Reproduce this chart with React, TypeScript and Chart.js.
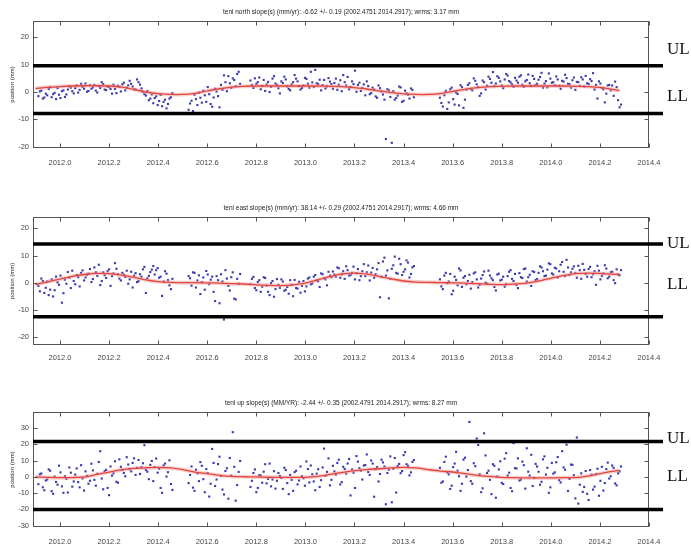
import React, { useEffect, useRef } from "react";
import { Chart, registerables } from "chart.js";
Chart.register(...registerables);

// ---------- DATA ----------
const epochs = [
  2011.912, 2011.924, 2011.936, 2011.948, 2011.960, 2011.972, 2011.984, 2011.996, 2012.008, 2012.020,
  2012.032, 2012.044, 2012.056, 2012.068, 2012.080, 2012.092, 2012.104, 2012.116, 2012.128, 2012.140,
  2012.152, 2012.164, 2012.176, 2012.188, 2012.200, 2012.212, 2012.224, 2012.236, 2012.248, 2012.260,
  2012.272, 2012.284, 2012.296, 2012.308, 2012.320, 2012.332, 2012.344, 2012.356, 2012.368, 2012.380,
  2012.392, 2012.404, 2012.416, 2012.428, 2012.440, 2012.452,
  2012.524, 2012.536, 2012.548, 2012.560, 2012.572, 2012.584, 2012.596, 2012.608, 2012.620, 2012.632,
  2012.644, 2012.656, 2012.668, 2012.680, 2012.692, 2012.704, 2012.716, 2012.728,
  2012.776, 2012.788, 2012.800, 2012.812, 2012.824, 2012.836, 2012.848, 2012.860, 2012.872, 2012.884,
  2012.896, 2012.908, 2012.920, 2012.932, 2012.944, 2012.956, 2012.968, 2012.980, 2012.992, 2013.004,
  2013.016, 2013.028, 2013.040, 2013.052, 2013.064, 2013.076, 2013.088, 2013.100,
  2013.112, 2013.124, 2013.136, 2013.148, 2013.160, 2013.172, 2013.184, 2013.196, 2013.208, 2013.220,
  2013.232, 2013.244, 2013.256, 2013.268, 2013.280, 2013.292, 2013.304, 2013.316, 2013.328, 2013.340,
  2013.352, 2013.364, 2013.376, 2013.388, 2013.400, 2013.412, 2013.424, 2013.436,
  2013.548, 2013.560, 2013.572, 2013.584, 2013.596, 2013.608, 2013.620, 2013.632, 2013.644, 2013.656,
  2013.668, 2013.680, 2013.692, 2013.704, 2013.716, 2013.728, 2013.740, 2013.752,
  2013.764, 2013.776, 2013.788, 2013.800, 2013.812, 2013.824, 2013.836, 2013.848, 2013.860, 2013.872,
  2013.884, 2013.896, 2013.908, 2013.920, 2013.932, 2013.944, 2013.956, 2013.968, 2013.980, 2013.992,
  2014.004, 2014.016, 2014.028, 2014.040, 2014.052, 2014.064, 2014.076, 2014.088, 2014.100, 2014.112,
  2014.124, 2014.136, 2014.148, 2014.160, 2014.172, 2014.184, 2014.196, 2014.208, 2014.220, 2014.232,
  2014.244, 2014.256, 2014.268, 2014.280,
];
// second batch of daily solutions (in between the first)
const epochsB = [
  2011.918, 2011.930, 2011.942, 2011.954, 2011.966, 2011.978, 2011.990, 2012.002, 2012.014, 2012.026,
  2012.038, 2012.050, 2012.062, 2012.074, 2012.086, 2012.098, 2012.110, 2012.122, 2012.134, 2012.146,
  2012.158, 2012.170, 2012.182, 2012.194, 2012.206, 2012.218, 2012.230, 2012.242, 2012.254, 2012.266,
  2012.278, 2012.290, 2012.302, 2012.314, 2012.326, 2012.338, 2012.350, 2012.362, 2012.374, 2012.386,
  2012.398, 2012.410, 2012.422, 2012.434, 2012.446, 2012.458,
  2012.530, 2012.542, 2012.554, 2012.566, 2012.578, 2012.590, 2012.602, 2012.614, 2012.626, 2012.638,
  2012.650, 2012.662, 2012.674, 2012.686, 2012.698, 2012.710, 2012.722, 2012.734,
  2012.782, 2012.794, 2012.806, 2012.818, 2012.830, 2012.842, 2012.854, 2012.866, 2012.878, 2012.890,
  2012.902, 2012.914, 2012.926, 2012.938, 2012.950, 2012.962, 2012.974, 2012.986, 2012.998, 2013.010,
  2013.022, 2013.034, 2013.046, 2013.058, 2013.070, 2013.082, 2013.094, 2013.106,
  2013.118, 2013.130, 2013.142, 2013.154, 2013.166, 2013.178, 2013.190, 2013.202, 2013.214, 2013.226,
  2013.238, 2013.250, 2013.262, 2013.274, 2013.286, 2013.298, 2013.310, 2013.322, 2013.334, 2013.346,
  2013.358, 2013.370, 2013.382, 2013.394, 2013.406, 2013.418, 2013.430, 2013.442,
  2013.554, 2013.566, 2013.578, 2013.590, 2013.602, 2013.614, 2013.626, 2013.638, 2013.650, 2013.662,
  2013.674, 2013.686, 2013.698, 2013.710, 2013.722, 2013.734, 2013.746, 2013.758,
  2013.770, 2013.782, 2013.794, 2013.806, 2013.818, 2013.830, 2013.842, 2013.854, 2013.866, 2013.878,
  2013.890, 2013.902, 2013.914, 2013.926, 2013.938, 2013.950, 2013.962, 2013.974, 2013.986, 2013.998,
  2014.010, 2014.022, 2014.034, 2014.046, 2014.058, 2014.070, 2014.082, 2014.094, 2014.106, 2014.118,
  2014.130, 2014.142, 2014.154, 2014.166, 2014.178, 2014.190, 2014.202, 2014.214, 2014.226, 2014.238,
  2014.250, 2014.262, 2014.274, 2014.286,
];

const northValues = [
  -1.5, 0.5, -2.0, -1.2, 1.8, -0.8, -2.6, -1.0, 0.3, -1.8, 0.9, 1.6, -0.5, 2.4, 0.8, 1.9, 3.1, 0.4, 1.2, 2.6,
  -0.2, 1.5, 2.9, 0.7, 1.8, -0.6, 1.1, 2.3, 0.2, 3.4, 1.6, 4.1, 2.0, 0.9, 3.6, 1.3, -0.8, 0.4, -2.4, -4.1,
  -1.6, -3.3, -5.2, -2.8, -4.4, -1.9,
  -6.5, -3.2, -1.0, -4.8, -2.1, 0.5, -3.6, -0.8, -5.4, 1.2, -1.5, 2.6, 6.1, 0.3, 3.2, 5.0, 2.1, 7.4,
  4.2, 1.5, 3.0, 5.3, 2.2, 0.4, 3.7, 1.9, 5.8, 2.6, -0.5, 3.3, 4.6, 1.1, 2.8, 6.2, 3.9, 0.9, 2.4, 4.8,
  1.6, 3.5, 8.1, 2.9, 0.6, 4.4, 2.1, 3.8,
  1.2, 4.9, 2.7, 0.3, 3.6, 5.5, 1.8, 2.9, 0.1, 3.4, 1.5, -1.2, 2.2, -0.4, 0.9, -2.1, 1.4, -0.9, -17.2, 0.6,
  -18.6, -2.8, -1.3, 1.7, -3.2, -0.5, -2.4, 0.8,
  -2.1, -5.3, 0.4, -3.8, 1.6, -4.6, -0.7, 2.5, -5.8, 0.9,
  3.2, 0.6, 4.1, 1.8, -0.5, 3.6, 2.3, 4.8,
  7.3, 3.1, 5.2, 2.4, 4.6, 6.0, 3.5, 1.9, 4.2, 5.6, 2.7, 3.9, 6.4, 2.2, 4.8, 3.0, 5.5, 1.6, 4.0, 6.8,
  3.4, 2.5, 4.6, 1.2, 3.8, 5.1, 2.9, 4.3, 0.8, 3.6, 5.4, 2.0, 3.2, 4.7, 6.9, 2.6, 3.9, 1.5, -3.8, 2.4,
  0.6, -1.4, 1.8, -5.6,
];
const northValuesB = [
  0.2, -2.4, -0.6, 1.1, -1.9, -0.3, 1.4, -2.2, 0.6, -0.9, 2.1, 0.3, 1.4, -0.2, 3.0, 1.2, 0.1, 2.5, 1.7, 0.5,
  2.2, 3.6, 0.9, 2.0, 1.1, 2.7, -0.4, 1.9, 2.8, 0.6, 2.4, 3.0, 1.0, 4.6, 2.7, 0.1, -1.3, -3.0, -0.9, -2.2,
  -4.8, -1.1, -3.6, -6.0, -2.4, -0.4,
  -4.2, -7.0, -2.6, -0.2, -3.9, -1.2, 1.8, -4.4, -2.0, 0.2, -5.6, 0.8, 3.6, 5.8, 1.5, 4.4, 6.6, 3.0,
  2.6, 5.0, 3.6, 1.0, 4.4, 2.8, 0.0, 4.9, 3.1, 1.4, 3.9, 5.6, 2.0, 0.6, 3.6, 4.9, 2.2, 1.5, 5.2, 3.0,
  7.4, 1.8, 3.2, 4.5, 2.5, 1.3, 5.1, 2.9,
  3.3, 0.8, 4.3, 6.2, 2.4, 1.0, 3.9, 7.8, 2.6, 0.4, 2.8, 3.9, -0.8, 1.6, -1.6, 2.4, 0.2, -2.8, 1.0, -1.8,
  0.3, -2.2, 2.0, -3.6, 0.5, -1.0, 1.3, -1.9,
  -4.0, -1.2, -6.2, 1.0, -2.6, -0.2, -4.9, 1.8, -2.8, 2.6,
  1.2, 5.0, 2.8, -1.4, 4.2, 0.9, 5.6, 3.4,
  2.1, 5.8, 3.9, 1.4, 6.6, 4.0, 2.8, 5.2, 3.4, 6.1, 1.9, 4.4, 3.2, 5.9, 2.6, 4.5, 7.0, 3.1, 1.7, 4.9,
  3.6, 5.7, 2.3, 4.1, 6.3, 3.0, 1.6, 5.3, 3.7, 2.2, 4.6, 5.9, 2.9, 4.0, 0.9, -2.4, 3.1, 1.0, -0.6, 2.6,
  2.4, 3.8, -3.0, -4.6,
];

const eastValues = [
  -1.2, 1.5, -3.8, 0.4, -2.6, -5.1, 2.2, -0.8, -7.4, 1.1, 3.9, -2.0, 0.6, 2.8, -1.4, 4.5, 1.9, 3.3, 0.2, 5.6,
  2.5, -0.9, 3.8, 1.7, 4.9, 2.4, 7.2, 3.1, 0.8, 2.9, 4.4, 1.2, -1.8, 3.5, 0.5, 2.2, 5.8, 1.6, 3.9, 6.1,
  4.6, 1.8, -4.9, 4.2, 0.9, -2.4,
  2.4, -1.1, 3.6, 0.8, -4.2, 1.9, 4.3, -0.6, 2.2, -6.8, 0.9, 3.1, -13.6, 1.5, -2.9, 3.8, -6.2, -0.4,
  -0.6, 2.1, -2.8, 0.9, -1.5, 1.7, -3.4, -0.2, -5.2, 1.3, -1.9, 0.4, -2.6, -4.1, -0.8, 1.0, -2.2, -3.7, 0.6, -1.4,
  1.9, -0.3, 2.8, 0.5, 3.4, 1.6, -1.0, 2.6,
  4.1, 2.2, 5.3, 3.0, 1.4, 4.6, 2.8, 5.9, 3.5, 0.9, 4.2, 2.4, 6.3, 3.7, 1.8, 4.9, -5.4, 7.8, 2.6, -5.8,
  5.1, 9.6, 3.3, 6.8, 4.0, 8.2, 1.9, 5.6,
  1.2, -2.4, 3.6, 0.4, -4.3, 2.2, -1.0, 4.5, 1.8, -0.6, 2.9, 0.2, 3.8, -1.8, 1.5, 4.1, -0.4, 2.6, 0.9, -2.9,
  3.3, 1.1, -1.5, 2.4, 4.6, 0.6, -0.9, 3.5, 1.7, 5.2, 2.0, -1.2, 3.9, 1.3, 6.0, 4.2, 2.6, 7.1, 3.4, 5.5,
  1.9, 6.6, 4.0, 8.4, 2.8, 5.1, 3.6, 6.2, 1.4, 4.7, 2.2, 5.8, 3.1, -0.8, 4.4, 2.5, 6.4, 1.6, 3.8, 0.9,
  4.9, 2.7,
];
const eastValuesB = [
  -3.2, 0.6, -1.9, -4.6, 1.2, -2.8, 0.1, 2.6, -3.9, -0.4, 1.8, 4.4, -0.6, 2.0, 3.6, 0.8, 2.9, 5.0, 1.3, 3.8,
  6.6, 0.6, 2.7, 4.2, -1.2, 3.4, 5.1, 1.5, 3.6, 2.1, -0.4, 4.0, 2.6, 0.2, 3.1, 4.9, -3.8, 2.5, 4.8, 3.0,
  5.4, 2.2, 0.4, 3.3, -1.0, 1.4,
  1.6, 3.8, -1.8, 2.7, 0.2, -2.6, 3.0, 1.1, -3.4, 2.4, -7.6, 0.4, 4.6, -1.2, 2.0, -5.9, 1.4, 3.2,
  1.4, -2.0, 0.2, -3.4, 2.0, -1.1, -4.6, 0.6, -2.4, -0.8, 1.2, -3.0, -1.6, 0.9, -5.0, -2.0, 0.3, -1.2, -3.2, 1.5,
  -0.6, 2.2, 0.8, -1.6, 3.1, 1.2, 4.0, 2.0,
  3.0, 5.6, 1.8, 4.2, 6.0, 2.6, 3.6, 1.2, 5.0, 2.4, 6.8, 3.8, 0.8, 5.4, 3.1, 7.2, 2.2, 9.2, 4.5, 1.4,
  6.4, 3.6, 8.8, 2.8, 4.9, 7.4, 3.2, 6.1,
  -1.4, 2.6, -0.2, 3.2, -3.0, 1.0, 5.2, -1.6, 2.4, 0.6, -2.2, 3.4, 1.2, -0.8, 2.8, 0.0, 4.4, 1.6, -1.6, 3.0,
  0.8, 2.2, -0.6, 4.0, 1.4, 3.2, -2.0, 2.0, 5.0, 0.4, 2.9, 4.2, 1.0, 3.6, 5.6, 2.4, 4.8, 6.8, 3.0, 5.2,
  4.2, 7.6, 2.4, 5.6, 3.8, 6.0, 1.8, 4.6, 6.9, 3.2, 5.0, 2.0, 4.2, 6.2, 1.2, 3.4, 5.2, 2.2, 4.0, -0.2,
  3.0, 4.6,
];

const upValues = [
  -4.5, 2.1, -8.2, -1.6, 3.8, -10.4, -3.1, 6.9, -5.8, 0.4, -9.6, 2.6, -2.8, 5.2, -6.4, -0.9, 3.4, -4.2, 8.1, -1.8,
  1.9, 15.8, -7.6, 4.3, -11.2, 0.8, 9.6, -3.6, 6.2, 2.4, 12.1, 4.8, 8.6, 1.2, 10.4, 6.1, 19.5, 3.2, 7.4, -2.6,
  11.3, 5.0, -9.8, 8.2, 2.9, -4.4,
  -3.8, 6.4, -8.6, 2.2, 9.1, -1.4, 4.8, -12.1, 17.2, -5.6, 7.9, 0.6, -10.8, 5.3, 11.6, 27.5, -14.6, 3.1,
  -6.2, 2.4, -9.4, 1.1, -3.6, 7.8, -1.2, -5.8, 3.5, -2.4, 0.6, -7.4, 4.2, -10.6, -1.8, 2.9, -4.6, 6.4, -0.8, 9.5,
  -3.4, 1.6, -8.2, 4.7, -2.0, 17.4, 3.1, -5.2,
  6.8, 1.4, 10.6, -3.2, 4.9, 8.2, -11.4, 2.6, 12.8, 5.4, -1.6, 7.3, 3.0, 10.1, -12.2, 6.0, 1.8, 8.9, -16.8, 4.4,
  -15.6, 11.6, 6.7, 2.3, 13.4, 7.8, 0.9, 9.2,
  5.6, -2.8, 12.4, 1.6, -5.4, 8.2, 3.8, -8.6, 10.6, 0.2, 33.8, -4.2, 6.6, 19.6, -9.4, 26.8, 2.4, -1.8, 7.8, -12.8,
  4.6, -3.6, 11.2, 0.8, -6.8, 20.8, 5.2, -2.2, 9.4, -7.2, 3.2, 13.6, -0.6, 6.4, -4.8, 10.8, 1.4, -9.8, 8.6, 2.8,
  12.2, -3.4, 5.8, 19.8, -1.2, 7.4, -13.2, -16.4, 2.2, -6.2, -10.4, 4.2, -7.8, 1.6, -11.6, 6.2, -3.8, 8.8, 0.4, 5.6,
  -5.2, 3.4,
];
const upValuesB = [
  1.6, -6.4, -2.2, 4.6, -8.8, 0.2, -4.8, 2.8, -9.8, -1.2, 5.8, -6.0, 1.4, -3.2, 7.2, -8.4, 0.6, -2.4, 4.0, -5.4,
  9.2, -1.0, 3.6, -6.8, 6.4, 2.2, -3.0, 10.8, 4.4, 0.4, 7.6, 3.4, 11.4, 5.6, 1.8, 8.4, 4.2, -1.4, 9.8, 6.0,
  2.6, -6.8, 7.0, 0.2, 10.2, -8.0,
  1.2, -6.6, 4.4, -2.6, 6.8, -9.4, 2.4, -4.2, 8.6, -1.6, 12.4, -7.8, 3.6, -13.4, 0.8, 6.2, -5.0, 9.8,
  -2.4, 4.6, -6.8, 0.8, 3.2, -4.0, 8.2, -1.6, -7.2, 2.4, -0.6, 5.6, -3.8, 1.2, -8.6, 3.8, -2.2, 0.4, -5.4, 4.8,
  7.0, -2.8, 2.0, -6.2, 5.8, 0.6, 11.4, -1.8,
  3.4, 8.6, -4.6, 6.2, 2.0, 11.0, 4.6, -6.8, 9.4, 3.8, 7.0, 13.8, 1.2, 8.2, 4.8, -2.8, 10.6, 6.4, 2.4, 12.6,
  5.0, -9.6, 8.0, 3.6, 15.2, 6.8, 2.8, 10.4,
  -3.6, 9.2, 2.8, -7.4, 6.0, 15.4, 0.4, -4.2, 11.8, 4.2, -2.6, 8.4, 23.6, 1.6, -7.0, 13.2, 3.8, -10.6, 6.8, 0.2,
  9.6, -4.4, 14.6, 2.6, -8.8, 5.4, 11.4, -1.6, 7.2, 17.6, 0.8, -5.6, 8.0, 3.2, -3.0, 12.6, 5.6, -6.4, 2.0, 9.0,
  -2.0, 15.8, 4.4, -8.6, 7.6, 1.0, 24.2, -4.8, -9.2, 3.6, -14.2, 1.4, -6.0, 5.0, -2.4, -8.4, 4.8, -1.0, 7.0, -4.0,
  2.2, 6.4,
];

const fitEpochs = [
  2011.90, 2011.95, 2012.00, 2012.05, 2012.10, 2012.15, 2012.20, 2012.25, 2012.30, 2012.35,
  2012.40, 2012.45, 2012.50, 2012.55, 2012.60, 2012.65, 2012.70, 2012.75, 2012.80, 2012.85,
  2012.90, 2012.95, 2013.00, 2013.05, 2013.10, 2013.15, 2013.20, 2013.25, 2013.30, 2013.35,
  2013.40, 2013.45, 2013.50, 2013.55, 2013.60, 2013.65, 2013.70, 2013.75, 2013.80, 2013.85,
  2013.90, 2013.95, 2014.00, 2014.05, 2014.10, 2014.15, 2014.20, 2014.25, 2014.28,
];
const northFit = [
  1.3, 1.7, 2.0, 2.2, 2.3, 2.3, 2.2, 1.8, 1.0, 0.0,
  -0.6, -0.9, -0.9, -0.5, 0.4, 1.2, 1.8, 2.1, 2.2, 2.2,
  2.2, 2.2, 2.2, 2.2, 2.1, 2.0, 1.6, 1.1, 0.4, -0.2,
  -0.7, -0.9, -0.9, -0.6, 0.2, 1.0, 1.6, 2.0, 2.1, 2.2,
  2.2, 2.2, 2.2, 2.2, 2.1, 2.0, 1.7, 1.0, 0.5,
];
const eastFit = [
  -0.7, 0.3, 1.3, 2.3, 3.0, 3.4, 3.3, 2.8, 2.0, 1.0,
  0.4, 0.1, 0.0, 0.0, -0.1, -0.2, -0.4, -0.5, -0.8, -1.0,
  -1.1, -0.8, -0.2, 1.0, 2.2, 3.2, 3.5, 3.1, 2.3, 1.4,
  0.6, 0.2, 0.1, 0.0, -0.1, -0.2, -0.4, -0.6, -0.7, -0.5,
  -0.2, 0.6, 1.6, 2.6, 3.3, 3.5, 3.4, 3.1, 3.0,
];
const upFit = [
  0.0, -0.3, -0.5, -0.4, 0.0, 1.5, 3.0, 4.3, 5.2, 5.6,
  5.8, 5.5, 4.5, 3.0, 2.0, 1.0, 0.3, 0.1, 0.0, -0.2,
  -0.3, -0.3, -0.3, 0.3, 1.5, 2.7, 3.8, 4.5, 5.0, 5.5,
  5.8, 5.5, 4.5, 3.6, 3.0, 2.0, 1.0, 0.3, -0.3, -0.5,
  -0.6, -0.6, -0.6, -0.5, -0.4, 0.5, 2.0, 3.4, 4.0,
];

const northLimits = [9.6, -7.9];
const eastLimits = [14.2, -12.6];
const upLimits = [21.8, -20.0];
const limitLabels = ["UL", "LL"];

const panelTitles = [
  "tenl north slope(s) (mm/yr): -6.62 +/- 0.19 (2002.4751 2014.2917); wrms: 3.17 mm",
  "tenl east slope(s) (mm/yr): 38.14 +/- 0.29 (2002.4751 2014.2917); wrms: 4.66 mm",
  "tenl up slope(s) (MM/YR): -2.44 +/- 0.35 (2002.4791 2014.2917); wrms: 8.27 mm",
];
const yAxisTitle = "position (mm)";
const xRange = [2011.89, 2014.4];
const xTickStep = 0.2;
const yTickStep = 10;

// ---------- LAYOUT ----------
const W = 691;
const panels = [
  { title: panelTitles[0], values: northValues, valuesB: northValuesB, fit: northFit, limits: northLimits,
    yMin: -20.5, yMax: 26, top: 0, height: 190, chartTop: 21, chartBottom: 148, xPad: 10.5, ulOff: -16, llOff: 4.5 },
  { title: panelTitles[1], values: eastValues, valuesB: eastValuesB, fit: eastFit, limits: eastLimits,
    yMin: -23, yMax: 24.2, top: 190, height: 190, chartTop: 27, chartBottom: 155, xPad: 8.5, ulOff: -1, llOff: 2 },
  { title: panelTitles[2], values: upValues, valuesB: upValuesB, fit: upFit, limits: upLimits,
    yMin: -30.8, yMax: 39.9, top: 380, height: 168, chartTop: 32, chartBottom: 147, xPad: 10, ulOff: -3, llOff: 0 },
];
const CHART_LEFT = 33;
const CHART_RIGHT = 649;

function Panel({ cfg }: { cfg: any }) {
  const ref = useRef<HTMLCanvasElement>(null);
  useEffect(() => {
    const canvas = ref.current!;
    const pointsA = epochs.map((t, i) => ({ x: t, y: cfg.values[i] }));
    const pointsB = epochsB.map((t, i) => ({ x: t, y: cfg.valuesB[i] }));
    const points = pointsA.concat(pointsB).filter((p) => p.y !== undefined);
    const fitPts = fitEpochs.map((t, i) => ({ x: t, y: cfg.fit[i] }));

    const decor = {
      id: "decor",
      afterDatasetsDraw(chart: any) {
        const { ctx, chartArea: ca, scales } = chart;
        const xs = scales.x;
        const ys = scales.y;
        ctx.save();
        ctx.strokeStyle = "#555";
        ctx.lineWidth = 1;
        const L = Math.round(ca.left) + 0.5;
        const T = Math.round(ca.top) + 0.5;
        const R = Math.round(ca.right) - 0.5;
        const B = Math.round(ca.bottom) - 0.5;
        ctx.strokeRect(L, T, R - L, B - T);
        ctx.beginPath();
        xs.ticks.forEach((tk: any) => {
          const px = Math.round(xs.getPixelForValue(tk.value)) + 0.5;
          ctx.moveTo(px, T);
          ctx.lineTo(px, T + 4);
          ctx.moveTo(px, B);
          ctx.lineTo(px, B - 4);
        });
        ys.ticks.forEach((tk: any) => {
          const py = Math.round(ys.getPixelForValue(tk.value)) + 0.5;
          ctx.moveTo(L, py);
          ctx.lineTo(L + 4, py);
          ctx.moveTo(R, py);
          ctx.lineTo(R - 4, py);
        });
        ctx.stroke();
        ctx.strokeStyle = "#000";
        ctx.lineWidth = 3.5;
        cfg.limits.forEach((v: number) => {
          const py = ys.getPixelForValue(v);
          ctx.beginPath();
          ctx.moveTo(ca.left, py);
          ctx.lineTo(ca.right + 14, py);
          ctx.stroke();
        });
        ctx.fillStyle = "#111";
        ctx.font = '17px "Liberation Serif", "DejaVu Serif", serif';
        ctx.textAlign = "left";
        ctx.textBaseline = "middle";
        ctx.fillText(limitLabels[0], ca.right + 18, ys.getPixelForValue(cfg.limits[0]) + cfg.ulOff);
        ctx.fillText(limitLabels[1], ca.right + 18, ys.getPixelForValue(0) + cfg.llOff);
        ctx.fillStyle = "#222";
        ctx.font = '6.5px "Liberation Sans", "DejaVu Sans", sans-serif';
        ctx.textAlign = "center";
        ctx.fillText(cfg.title, (ca.left + ca.right) / 2, ca.top - 9);
        ctx.translate(12, (ca.top + ca.bottom) / 2);
        ctx.rotate(-Math.PI / 2);
        ctx.font = '6px "Liberation Sans", "DejaVu Sans", sans-serif';
        ctx.fillText(yAxisTitle, 0, 0);
        ctx.restore();
      },
    };

    const tickFont = { size: 7.5, family: '"Liberation Sans", "DejaVu Sans", sans-serif' };
    const chart = new Chart(canvas, {
      type: "scatter",
      data: {
        datasets: [
          { data: fitPts, showLine: true, borderColor: "#e2453c", borderWidth: 1.3, pointRadius: 0, tension: 0.3 } as any,
          { data: fitPts, showLine: true, borderColor: "rgba(240,150,150,0.45)", borderWidth: 4, pointRadius: 0, tension: 0.3 } as any,
          { data: points, pointStyle: "rect", pointRadius: 1.5, backgroundColor: "#3a3aae", borderWidth: 0 } as any,
        ],
      },
      options: {
        responsive: false,
        animation: false,
        devicePixelRatio: 1,
        layout: { padding: { top: cfg.chartTop, right: W - CHART_RIGHT, left: 0, bottom: 0 } },
        plugins: { legend: { display: false }, tooltip: { enabled: false }, title: { display: false } },
        scales: {
          x: {
            type: "linear",
            min: xRange[0],
            max: xRange[1],
            grid: { display: false, drawTicks: false },
            border: { display: false },
            ticks: {
              stepSize: xTickStep,
              includeBounds: false,
              autoSkip: false,
              maxRotation: 0,
              padding: cfg.xPad,
              color: "#444",
              font: tickFont,
              callback: (v: any) => Number(v).toFixed(1),
            },
            afterFit: (s: any) => {
              s.height = cfg.height - cfg.chartBottom;
            },
          },
          y: {
            type: "linear",
            min: cfg.yMin,
            max: cfg.yMax,
            grid: { display: false, drawTicks: false },
            border: { display: false },
            ticks: {
              stepSize: yTickStep,
              includeBounds: false,
              padding: 4,
              color: "#444",
              font: tickFont,
              callback: (v: any) => String(Math.round(Number(v))),
            },
            afterFit: (s: any) => {
              s.width = CHART_LEFT;
            },
          },
        },
      } as any,
      plugins: [decor],
    });
    return () => chart.destroy();
  }, []);
  return (
    <canvas
      ref={ref}
      width={W}
      height={cfg.height}
      style={{ position: "absolute", left: 0, top: cfg.top, width: W, height: cfg.height }}
    />
  );
}

export default function App() {
  return (
    <div style={{ position: "absolute", left: 0, top: 0, width: W, height: 548, background: "#fff", overflow: "hidden" }}>
      {panels.map((p, i) => (
        <Panel key={i} cfg={p} />
      ))}
    </div>
  );
}
